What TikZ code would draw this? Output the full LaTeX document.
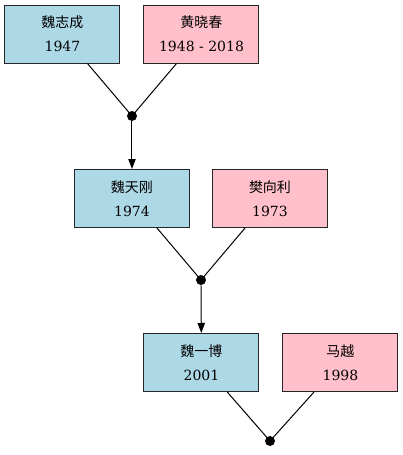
\documentclass[tikz,border=0pt]{standalone}
\usepackage{fontspec}
\setmainfont{DejaVu Serif}
\newfontfamily\cjk{Noto Sans CJK SC}
\usetikzlibrary{arrows.meta}
\definecolor{mblue}{HTML}{ADD8E6}
\definecolor{fpink}{HTML}{FFC0CB}
\tikzset{
  person/.style={draw=black!85, line width=0.75pt, minimum width=115*0.75pt, minimum height=58*0.75pt,
    inner sep=0pt, align=center, font=\fontsize{10.5}{18}\selectfont},
  male/.style={person, fill=mblue},
  female/.style={person, fill=fpink},
  union/.style={circle, fill=black, inner sep=0pt, minimum size=7.5pt},
  link/.style={line width=0.75pt, black},
  down/.style={link, -{Triangle[length=7.5pt,width=5.5pt]}}
}
\begin{document}
\begin{tikzpicture}[x=0.75pt,y=-0.75pt]
\useasboundingbox (0,0) rectangle (403,455);
\node[male] (a) at (62.5,34) {{\cjk 魏志成}\\1947};
\node[female] (b) at (201.5,34) {{\cjk 黄晓春}\\1948 - 2018};
\node[union] (u1) at (132,116) {};
\node[male] (c) at (132,198.5) {{\cjk 魏天刚}\\1974};
\node[female] (d) at (270,198.5) {{\cjk 樊向利}\\1973};
\node[union] (u2) at (201,280) {};
\node[male] (e) at (201.5,362.5) {{\cjk 魏一博}\\2001};
\node[female] (f) at (340.5,362.5) {{\cjk 马越}\\1998};
\node[union] (u3) at (270,441) {};
\draw[link] (a) -- (u1.center);
\draw[link] (b) -- (u1.center);
\draw[down] (u1) -- (c);
\draw[link] (c) -- (u2.center);
\draw[link] (d) -- (u2.center);
\draw[down] (u2) -- (e);
\draw[link] (e) -- (u3.center);
\draw[link] (f) -- (u3.center);
\end{tikzpicture}
\end{document}
